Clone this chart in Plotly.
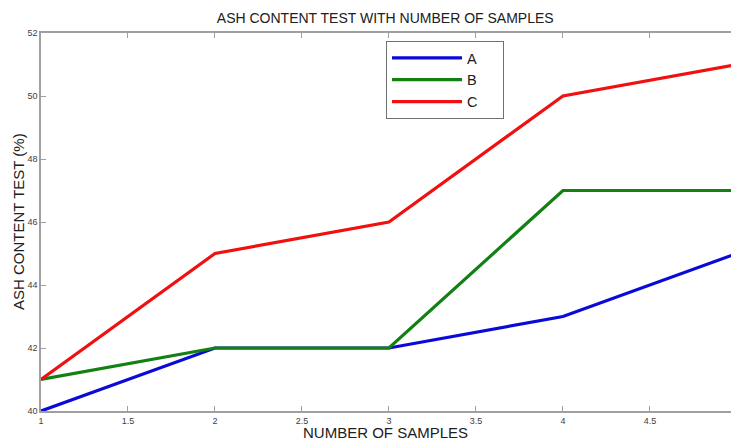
import plotly.graph_objects as go

samples = [1, 2, 3, 4, 5]
series_a = [40, 42, 42, 43, 45]
series_b = [41, 42, 42, 47, 47]
series_c = [41, 45, 46, 50, 51]
names = ["A", "B", "C"]
colors = ["#0a0ad8", "#128012", "#f01010"]

pad = "\u00a0" * 5
fig = go.Figure()
for name, vals, col in zip(names, [series_a, series_b, series_c], colors):
    fig.add_trace(go.Scatter(x=samples, y=vals, mode="lines", name=name + pad,
                             line=dict(color=col, width=3.2)))

axis_common = dict(showgrid=False, zeroline=False, showline=True, linecolor="#a0a0a0",
                   linewidth=1.5, ticks="inside", ticklen=5, tickcolor="#a0a0a0",
                   automargin=False,
                   tickfont=dict(family="Liberation Sans Narrow, Arial Narrow, Liberation Sans", size=9, color="#404040"))

title_font = dict(family="Liberation Sans, Arial", size=15, color="#202020")

fig.update_layout(
    width=731, height=440,
    margin=dict(l=41, r=0, t=33, b=29, autoexpand=False),
    paper_bgcolor="white", plot_bgcolor="white",
    title=dict(text="ASH CONTENT TEST WITH NUMBER OF SAMPLES", x=0.527, xanchor="center",
               y=0.959, yanchor="middle", automargin=False,
               font=dict(family="Liberation Sans, Arial", size=14, color="#202020")),
    xaxis=dict(range=[1, 4.966], tickvals=[1, 1.5, 2, 2.5, 3, 3.5, 4, 4.5],
               ticktext=["1", "1.5", "2", "2.5", "3", "3.5", "4", "4.5"],
               mirror="ticks", **axis_common),
    yaxis=dict(range=[40, 52], tickvals=[40, 42, 44, 46, 48, 50, 52], mirror=False,
               **axis_common),
    legend=dict(x=0.5, y=0.979, xanchor="left", yanchor="top",
                bordercolor="#707070", borderwidth=1, bgcolor="white",
                font=dict(family="Liberation Sans, Arial", size=14.5, color="#202020"),
                itemwidth=70, tracegroupgap=0),
    showlegend=True,
    annotations=[
        dict(text="NUMBER OF SAMPLES", xref="paper", yref="paper", x=0.4986, y=0.0,
             yshift=-21, xanchor="center", yanchor="middle", showarrow=False, font=title_font),
        dict(text="ASH CONTENT TEST (%)", xref="paper", yref="paper", x=0.0, y=0.5,
             xshift=-23, xanchor="center", yanchor="middle", textangle=-90, showarrow=False,
             font=title_font),
    ],
)

fig.write_html("out.html", config={"responsive": False, "displayModeBar": False},
               post_script="document.body.style.margin='0';document.body.style.overflow='hidden';")
